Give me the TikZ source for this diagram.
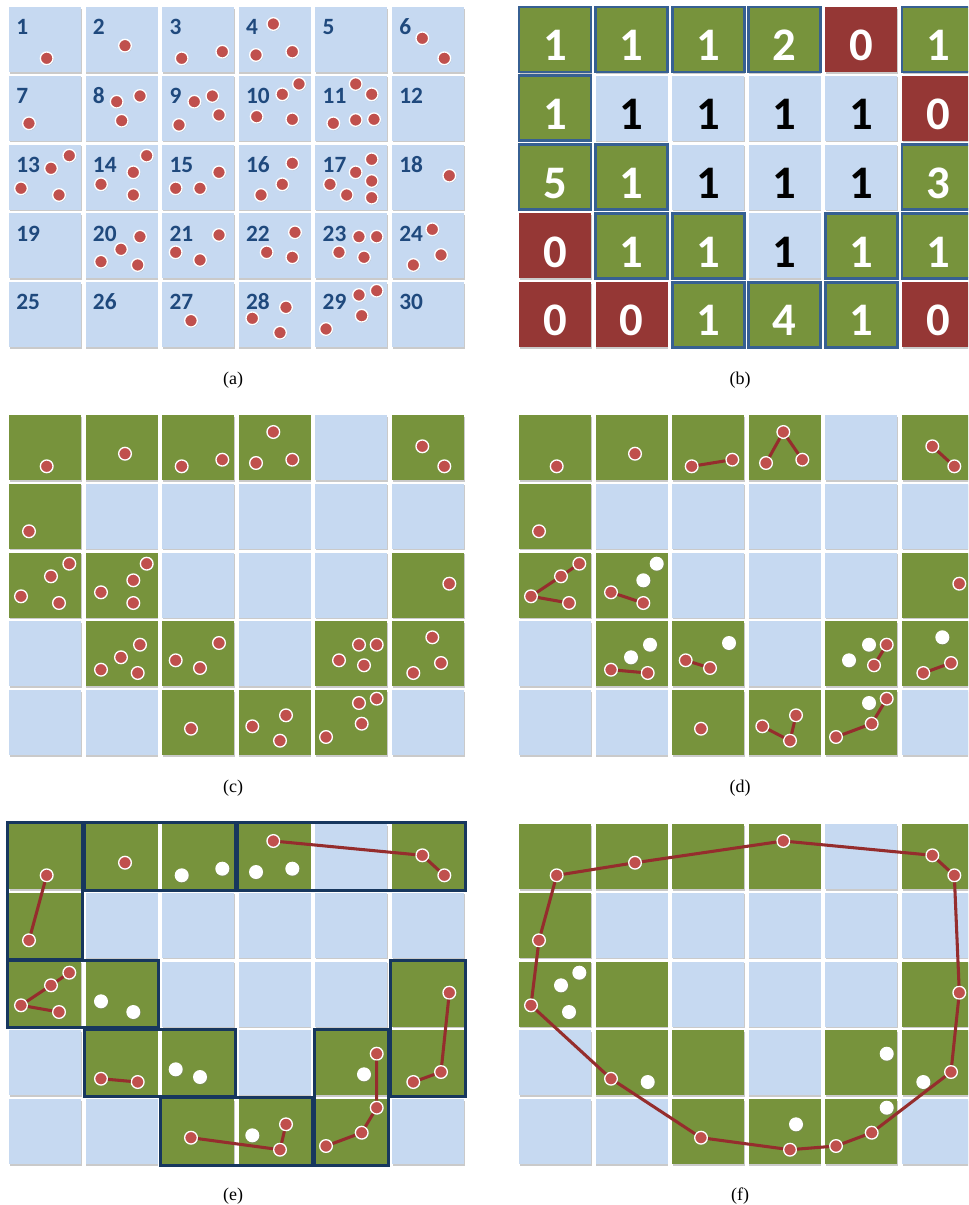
\documentclass[tikz,border=0pt]{standalone}
\usepackage{fontspec}
\setmainfont{Liberation Serif}
\newfontfamily\calfont{Carlito}
\usetikzlibrary{shadows}
\definecolor{cblue}{RGB}{198,217,241}
\definecolor{cgreen}{RGB}{119,147,60}
\definecolor{cred}{RGB}{149,55,53}
\definecolor{dotred}{RGB}{192,80,77}
\definecolor{linkred}{RGB}{149,45,45}
\definecolor{bframe}{RGB}{55,96,146}
\definecolor{gframe}{RGB}{23,55,94}
\definecolor{numblue}{RGB}{31,73,125}
\tikzset{
  cell/.style={rectangle,minimum width=54pt,minimum height=48.75pt,inner sep=0pt,
    drop shadow={shadow xshift=0.4pt,shadow yshift=-1.2pt,opacity=.35,fill=black!60}},
  cellb/.style={cell,fill=cblue},
  cellg/.style={cell,fill=cgreen},
  cellr/.style={cell,fill=cred},
  boxb/.style={cellb},
  boxg/.style={cellg,draw=bframe,line width=2pt},
  boxr/.style={cellr},
  cellnum/.style={font=\calfont\bfseries\fontsize{17.5}{17.5}\selectfont,text=numblue,inner sep=0pt},
  tally/.style={font=\calfont\bfseries\fontsize{35}{35}\selectfont,inner sep=0pt},
  tallyb/.style={tally,text=black},
  tallyg/.style={tally,text=white},
  tallyr/.style={tally,text=white},
  reddot/.style={circle,inner sep=0pt,minimum size=9.5pt,fill=dotred,draw=white,line width=1pt,
    drop shadow={shadow xshift=.5pt,shadow yshift=-.6pt,opacity=.4}},
  whitedot/.style={circle,inner sep=0pt,minimum size=10.5pt,fill=white,
    drop shadow={shadow xshift=.5pt,shadow yshift=-.6pt,opacity=.4}},
  link/.style={draw=linkred,line width=2.3pt},
  group/.style={draw=gframe,line width=2.2pt},
  sublabel/.style={font=\fontsize{13.5}{14}\selectfont}
}
% cell kinds, row by row
\def\allblue{b,b,b,b,b,b,b,b,b,b,b,b,b,b,b,b,b,b,b,b,b,b,b,b,b,b,b,b,b,b}
\def\kinds{g,g,g,g,b,g,g,b,b,b,b,b,g,g,b,b,b,g,b,g,g,b,g,g,b,b,g,g,g,b}
% dot id / x / y / look in (c) (d) (e) (f)
\def\dotdata{%
1a/46.7/58.3/r/r/r/r,2a/125/45.7/r/r/r/r,%
3a/181.7/58.3/r/r/w/-,3b/222.3/51.7/r/r/w/-,%
4a/273.3/24/r/r/r/r,4b/256/55/r/r/w/-,4c/292.3/51.7/r/r/w/-,%
6a/422.3/38.3/r/r/r/r,6b/444.3/58.3/r/r/r/r,%
7a/29/123.3/r/r/r/r,%
8a/116.7/101.7/-/-/-/-,8b/140/96/-/-/-/-,8c/121.7/120.7/-/-/-/-,%
9a/194.3/101.7/-/-/-/-,9b/212.3/96/-/-/-/-,9c/219/115/-/-/-/-,9d/179/125/-/-/-/-,%
10a/299/84/-/-/-/-,10b/282.3/94.3/-/-/-/-,10c/256.7/116.7/-/-/-/-,10d/292.3/119.3/-/-/-/-,%
11a/355.7/84/-/-/-/-,11b/371.7/94.3/-/-/-/-,11c/333.3/123.3/-/-/-/-,11d/355.7/120/-/-/-/-,11e/374/119.3/-/-/-/-,%
13a/69.3/155.7/r/r/r/w,13b/51/168.3/r/r/r/w,13c/21/188.3/r/r/r/r,13d/59/195/r/r/r/w,%
14a/146.7/155.7/r/w/-/-,14b/133.3/172.3/r/w/-/-,14c/101/184.3/r/r/w/-,14d/133.3/195/r/r/w/-,%
15a/219/172.3/-/-/-/-,15b/175.7/188.3/-/-/-/-,15c/200/188.3/-/-/-/-,%
16a/292.3/163.3/-/-/-/-,16b/282.3/184.3/-/-/-/-,16c/261/195/-/-/-/-,%
17a/371.7/159.3/-/-/-/-,17b/355.7/172.3/-/-/-/-,17c/371.7/181/-/-/-/-,17d/330/184.3/-/-/-/-,17e/346.7/195/-/-/-/-,17f/371.7/197.7/-/-/-/-,%
18a/449.3/175.7/r/r/r/r,%
20a/140/236.7/r/w/-/-,20b/121/249.3/r/w/-/-,20c/101/261.7/r/r/r/r,20d/137.7/265/r/r/r/w,%
21a/219/235/r/w/-/-,21b/175.7/252.3/r/r/w/-,21c/200/260/r/r/w/-,%
22a/295/232.3/-/-/-/-,22b/266.7/252.3/-/-/-/-,22c/292.3/257.3/-/-/-/-,%
23a/359/236.7/r/w/-/-,23b/376.7/236.7/r/r/r/w,23c/339/252.3/r/w/-/-,23d/364/257.3/r/r/w/-,%
24a/432.3/229.3/r/w/-/-,24b/441/255/r/r/r/r,24c/413.3/265/r/r/r/w,%
27a/191/320.7/r/r/r/r,%
28a/286/307.3/r/r/r/w,28b/252.3/318.3/r/r/w/-,28c/280/332.7/r/r/r/r,%
29a/376.7/290.7/r/r/r/w,29b/359/295/r/w/-/-,29c/361.7/315.7/r/r/r/r,29d/326/329/r/r/r/r}
\newcommand{\cellgrid}[2]{%
  \foreach \k [count=\n] in #2 {%
    \pgfmathsetmacro{\cx}{45+76.6*mod(\n-1,6)}%
    \pgfmathsetmacro{\cy}{39.5+68.8*int((\n-1)/6)}%
    \node[cell\k] (#1\n) at (\cx,\cy) {};
  }}
\newcommand{\putdots}[2]{%
  \foreach \p/\x/\y/\rc/\rd/\re/\rf in \dotdata {%
    \if r#2 \node[reddot] (#1\p) at (\x,\y) {};\fi
    \if w#2 \node[whitedot] (#1\p) at (\x,\y) {};\fi
  }}

\begin{document}
\begin{tikzpicture}[x=0.75pt,y=-0.75pt]
  \useasboundingbox (0,0) rectangle (968,1205);
  \clip (0,0) rectangle (968,1205);

  % (a) numbered cells with all points
  \cellgrid{a}{\allblue}
  \foreach \n in {1,...,30}
    \node[cellnum,anchor=base west] (an\n) at ([xshift=5.5pt,yshift=-21pt]a\n.north west) {\n};
  \putdots{a}{r}

  % (b) counts
  \begin{scope}[shift={(510,0)}]
    \foreach \k/\v [count=\n] in {g/1,g/1,g/1,g/2,r/0,g/1,g/1,b/1,b/1,b/1,b/1,r/0,g/5,g/1,b/1,b/1,b/1,g/3,r/0,g/1,g/1,b/1,g/1,g/1,r/0,r/0,g/1,g/4,g/1,r/0}{
      \pgfmathsetmacro{\cx}{45+76.6*mod(\n-1,6)}
      \pgfmathsetmacro{\cy}{39.5+68.8*int((\n-1)/6)}
      \node[box\k] (b\n) at (\cx,\cy) {};
      \node[tally\k] (bn\n) at ([yshift=-4.5pt]b\n.center) {\v};
    }
  \end{scope}

  % (c) occupied cells
  \begin{scope}[shift={(0,408)}]
    \cellgrid{c}{\kinds}
    \putdots{c}{\rc}
  \end{scope}

  % (d) local hulls
  \begin{scope}[shift={(510,408)}]
    \cellgrid{d}{\kinds}
    \putdots{d}{\rd}
    \draw[link] (d3a) -- (d3b);
    \draw[link] (d4b) -- (d4a) -- (d4c);
    \draw[link] (d6a) -- (d6b);
    \draw[link] (d13a) -- (d13b) -- (d13c) -- (d13d);
    \draw[link] (d14c) -- (d14d);
    \draw[link] (d20c) -- (d20d);
    \draw[link] (d21b) -- (d21c);
    \draw[link] (d23b) -- (d23d);
    \draw[link] (d24c) -- (d24b);
    \draw[link] (d28b) -- (d28c) -- (d28a);
    \draw[link] (d29d) -- (d29c) -- (d29a);
  \end{scope}

  % (e) merged groups
  \begin{scope}[shift={(0,817)}]
    \cellgrid{e}{\kinds}
    \foreach \s/\t in {1/7,2/3,4/6,13/14,20/21,27/28,23/29,18/24}
      \draw[group] ([shift={(-1,-1)}]e\s.north west) rectangle ([shift={(1,1)}]e\t.south east);
    \putdots{e}{\re}
    \draw[link] (e1a) -- (e7a);
    \draw[link] (e4a) -- (e6a) -- (e6b);
    \draw[link] (e13a) -- (e13b) -- (e13c) -- (e13d);
    \draw[link] (e20c) -- (e20d);
    \draw[link] (e27a) -- (e28c) -- (e28a);
    \draw[link] (e23b) -- (e29a) -- (e29c) -- (e29d);
    \draw[link] (e18a) -- (e24b) -- (e24c);
  \end{scope}

  % (f) final hull
  \begin{scope}[shift={(510,817)}]
    \cellgrid{f}{\kinds}
    \putdots{f}{\rf}
    \draw[link] (f1a) -- (f2a) -- (f4a) -- (f6a) -- (f6b) -- (f18a) -- (f24b) -- (f29c)
      -- (f29d) -- (f28c) -- (f27a) -- (f20c) -- (f13c) -- (f7a) -- (f1a);
  \end{scope}

  \node[sublabel] (capa) at (233,380) {(a)};
  \node[sublabel] (capb) at (740,380) {(b)};
  \node[sublabel] (capc) at (233,788) {(c)};
  \node[sublabel] (capd) at (740,788) {(d)};
  \node[sublabel] (cape) at (233,1196) {(e)};
  \node[sublabel] (capf) at (740,1196) {(f)};
\end{tikzpicture}
\end{document}
